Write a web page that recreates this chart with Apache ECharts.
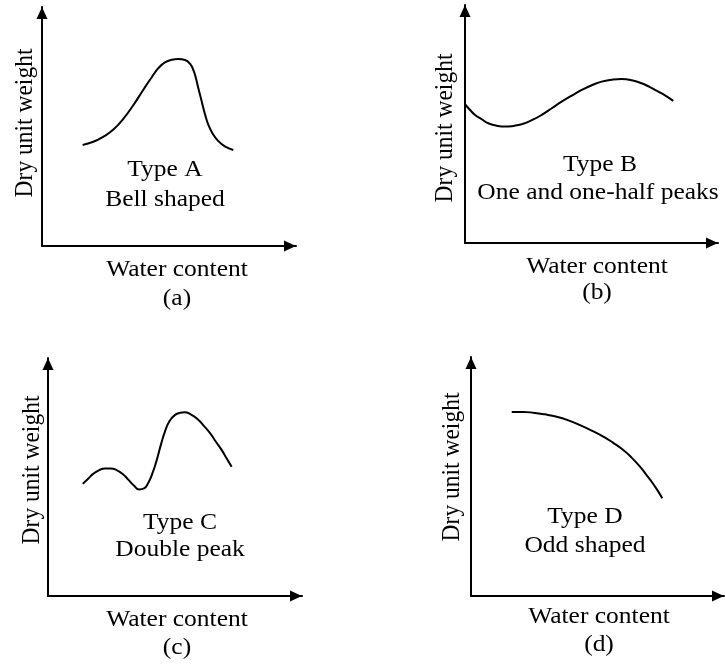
<!DOCTYPE html>
<html>
<head>
<meta charset="utf-8">
<script src="https://cdn.jsdelivr.net/npm/echarts@6/dist/echarts.min.js"></script>
<style>
html,body{margin:0;padding:0;background:#fff;}
#chart{width:725px;height:666px;}
</style>
</head>
<body>
<div id="chart"></div>
<script>
// Curves (arbitrary units: water content 0..10, dry unit weight 0..10)
const typeA = [[1.60,4.23],[2.02,4.36],[2.41,4.57],[2.81,4.87],[3.20,5.32],[3.60,5.90],[3.99,6.54],[4.32,7.06],[4.58,7.44],[4.84,7.68],[5.11,7.79],[5.37,7.82],[5.63,7.78],[5.83,7.62],[5.96,7.36],[6.06,7.02],[6.15,6.62],[6.29,6.04],[6.42,5.50],[6.55,5.07],[6.72,4.70],[6.94,4.39],[7.20,4.17],[7.53,4.02]];
const typeB = [[0,5.83],[0.20,5.59],[0.40,5.38],[0.66,5.20],[0.92,5.03],[1.25,4.93],[1.58,4.89],[1.91,4.92],[2.24,4.99],[2.64,5.16],[3.03,5.38],[3.43,5.66],[3.82,5.94],[4.22,6.19],[4.61,6.43],[5.01,6.63],[5.40,6.78],[5.80,6.86],[6.19,6.89],[6.59,6.84],[6.98,6.71],[7.31,6.55],[7.64,6.36],[7.97,6.16],[8.23,5.97]];
const typeC = [[1.37,4.71],[1.59,4.94],[1.78,5.13],[2.02,5.29],[2.24,5.36],[2.47,5.36],[2.70,5.29],[2.94,5.13],[3.16,4.89],[3.39,4.63],[3.59,4.48],[3.78,4.52],[3.95,4.76],[4.12,5.18],[4.28,5.71],[4.44,6.34],[4.61,6.93],[4.78,7.34],[5.00,7.61],[5.20,7.70],[5.39,7.72],[5.62,7.63],[5.85,7.47],[6.11,7.18],[6.38,6.84],[6.61,6.48],[6.84,6.13],[7.03,5.79],[7.23,5.43]];
const typeD = [[1.61,7.70],[2.07,7.70],[2.46,7.67],[2.92,7.60],[3.39,7.50],[3.85,7.35],[4.31,7.15],[4.77,6.92],[5.23,6.67],[5.62,6.41],[6.02,6.11],[6.35,5.79],[6.68,5.41],[6.94,5.06],[7.14,4.78],[7.36,4.44],[7.56,4.09]];

const typeNames = ['Type A', 'Type B', 'Type C', 'Type D'];
const shapeNames = ['Bell shaped', 'One and one-half peaks', 'Double peak', 'Odd shaped'];
const panelLetters = ['(a)', '(b)', '(c)', '(d)'];
const xAxisTitle = 'Water content';
const yAxisTitle = 'Dry unit weight';

const curves = [typeA, typeB, typeC, typeD];

// layout
const grids = [
  {left: 42, top: 7, width: 254, height: 239},
  {left: 465, top: 5, width: 253, height: 238},
  {left: 48, top: 358, width: 254, height: 238},
  {left: 471, top: 357, width: 253, height: 239}
];
const textPos = [
  {type: [165,170], shape: [165,200], xt: [177,270], letter: [177,299], yt: [25,123]},
  {type: [600,165], shape: [598,193], xt: [597,267], letter: [597,293], yt: [445,128]},
  {type: [180,523], shape: [180,550], xt: [177,620], letter: [177,648], yt: [32,470]},
  {type: [585,517], shape: [585,546], xt: [599,617], letter: [599,645], yt: [452,467]}
];

const FONT = '"Liberation Serif", "Times New Roman", serif';
const FS = 23.5;
const STRETCH = 1.085;
const INK = '#000';

const chart = echarts.init(document.getElementById('chart'), null, {renderer: 'canvas'});

const xAxes = [], yAxes = [], series = [], graphic = [];
const axisLine = {
  show: true, onZero: false,
  symbol: ['none', 'triangle'], symbolSize: [11, 12], symbolOffset: [0, -6],
  lineStyle: {color: INK, width: 2}
};
grids.forEach((g, i) => {
  xAxes.push({gridIndex: i, type: 'value', min: 0, max: 10,
    axisLine: axisLine, axisTick: {show: false}, axisLabel: {show: false}, splitLine: {show: false}});
  yAxes.push({gridIndex: i, type: 'value', min: 0, max: 10,
    axisLine: axisLine, axisTick: {show: false}, axisLabel: {show: false}, splitLine: {show: false}});
  series.push({
    type: 'line', xAxisIndex: i, yAxisIndex: i, data: curves[i], smooth: 0.5,
    showSymbol: false, silent: true,
    lineStyle: {color: INK, width: 2}
  });
  const t = textPos[i];
  const mk = (txt, p, rot) => ({
    type: 'text', x: p[0], y: p[1], rotation: rot || 0,
    scaleX: rot ? 1 : STRETCH, scaleY: rot ? STRETCH : 1,
    style: {text: txt, fill: INK, font: FS + 'px ' + FONT, align: 'center', verticalAlign: 'middle'}
  });
  graphic.push(mk(typeNames[i], t.type));
  graphic.push(mk(shapeNames[i], t.shape));
  graphic.push(mk(xAxisTitle, t.xt));
  graphic.push(mk(panelLetters[i], t.letter));
  graphic.push(mk(yAxisTitle, t.yt, Math.PI / 2));
});

chart.setOption({
  backgroundColor: '#fff',
  animation: false,
  grid: grids.map(g => Object.assign({containLabel: false}, g)),
  xAxis: xAxes,
  yAxis: yAxes,
  series: series,
  graphic: graphic
});
</script>
</body>
</html>
